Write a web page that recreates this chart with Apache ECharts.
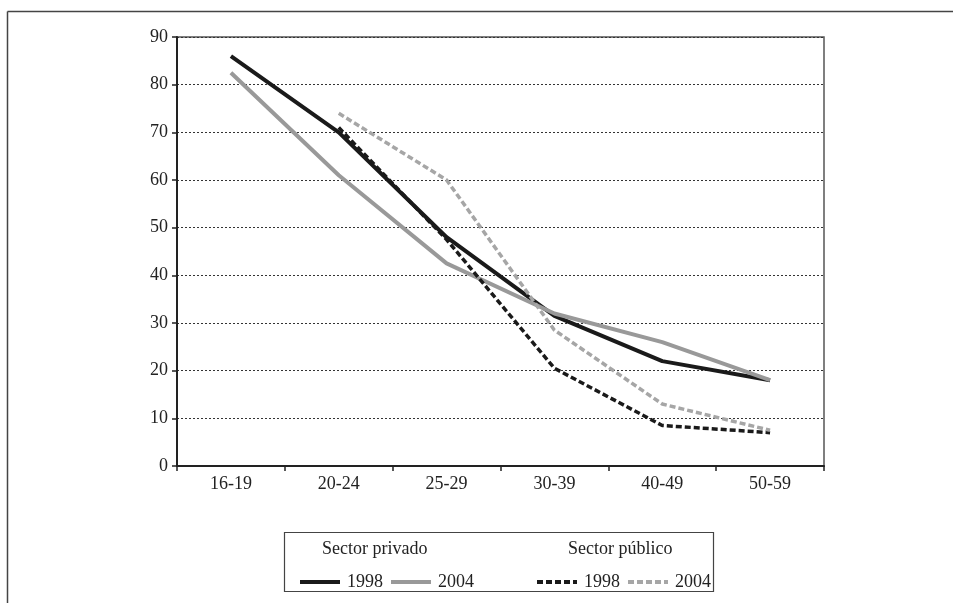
<!DOCTYPE html>
<html>
<head>
<meta charset="utf-8">
<script src="https://cdn.jsdelivr.net/npm/echarts@6/dist/echarts.min.js"></script>
<style>html,body{margin:0;padding:0;background:#fff}#c{width:953px;height:603px}</style>
</head>
<body>
<div id="c"></div>
<script>
var categories = ['16-19','20-24','25-29','30-39','40-49','50-59'];
var privado1998 = [86, 70, 48, 31.5, 22, 18];
var privado2004 = [82.5, 61, 42.5, 32, 26, 18];
var publico1998 = [null, 71, 47.5, 20.5, 8.5, 7];
var publico2004 = [null, 74, 60, 28.5, 13, 7.5];
var yTicks = [0,10,20,30,40,50,60,70,80,90];

var font = 'Liberation Serif';
var chart = echarts.init(document.getElementById('c'));
var legendCommon = {
  top: 568, itemWidth: 40, itemHeight: 14, itemGap: 6,
  itemStyle: {opacity: 0},
  lineStyle: {width: 4},
  formatter: function(n){return n.split(' ')[1];},
  textStyle: {fontFamily: font, fontSize: 18, color: '#222', padding: [0,0,0,2]}
};
chart.setOption({
  animation: false,
  backgroundColor: '#fff',
  textStyle: {fontFamily: font},
  grid: {left: 177, right: 129, top: 37, bottom: 137, show: true, borderColor: '#555', borderWidth: 1.5},
  xAxis: {
    type: 'category', data: categories, boundaryGap: true,
    axisLine: {lineStyle: {color: '#222', width: 2}},
    axisTick: {show: true, length: 5, lineStyle: {color: '#222', width: 1.5}},
    axisLabel: {fontFamily: font, fontSize: 18, color: '#222', margin: 9}
  },
  yAxis: {
    type: 'value', min: yTicks[0], max: yTicks[yTicks.length-1], interval: 10,
    axisLine: {show: true, lineStyle: {color: '#222', width: 2}},
    axisTick: {show: true, length: 5, lineStyle: {color: '#222', width: 1.5}},
    axisLabel: {fontFamily: font, fontSize: 18, color: '#222', margin: 9},
    splitLine: {show: true, lineStyle: {color: '#333', type: [2, 2], width: 1}}
  },
  legend: [
    Object.assign({left: 293, data: ['Privado 1998', 'Privado 2004']}, legendCommon),
    Object.assign({left: 530, data: ['Público 1998', 'Público 2004']}, legendCommon)
  ],
  graphic: [
    {type: 'line', shape: {x1: 7.5, y1: 11.5, x2: 953, y2: 11.5}, style: {stroke: '#444', lineWidth: 1.5}, silent: true},
    {type: 'line', shape: {x1: 7.5, y1: 11.5, x2: 7.5, y2: 603}, style: {stroke: '#444', lineWidth: 1.5}, silent: true},
    {type: 'rect', shape: {x: 284.5, y: 532.5, width: 429, height: 59}, style: {fill: 'none', stroke: '#444', lineWidth: 1.2}, silent: true},
    {type: 'text', left: 322, top: 540, style: {text: 'Sector privado', font: '18px "Liberation Serif"', fill: '#222'}},
    {type: 'text', left: 568, top: 540, style: {text: 'Sector público', font: '18px "Liberation Serif"', fill: '#222'}}
  ],
  series: [
    {name: 'Privado 1998', type: 'line', data: privado1998, symbol: 'none', color: '#1a1a1a',
     lineStyle: {color: '#1a1a1a', width: 4}},
    {name: 'Privado 2004', type: 'line', data: privado2004, symbol: 'none', color: '#999',
     lineStyle: {color: '#999', width: 4}},
    {name: 'Público 1998', type: 'line', data: publico1998, symbol: 'none', color: '#1a1a1a',
     lineStyle: {color: '#1a1a1a', width: 3.5, type: [6, 3]}},
    {name: 'Público 2004', type: 'line', data: publico2004, symbol: 'none', color: '#a6a6a6',
     lineStyle: {color: '#a6a6a6', width: 3.5, type: [6, 3]}}
  ]
});
</script>
</body>
</html>
